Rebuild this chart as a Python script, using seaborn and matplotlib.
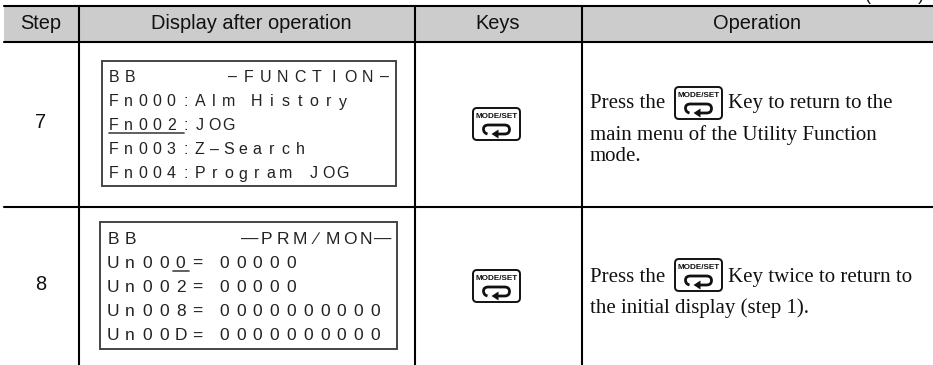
import matplotlib
matplotlib.use("Agg")
import matplotlib.pyplot as plt
import pandas as pd
import seaborn as sns
from matplotlib.patches import FancyBboxPatch, PathPatch, Polygon, Rectangle
from matplotlib.path import Path

HEADERS = ["Step", "Display after operation", "Keys", "Operation"]
STEPS = ["7", "8"]
DISPLAY_7 = ["BB", "Fn000:Alm History", "Fn002:JOG", "Fn003:Z\u2013Search", "Fn004:Program JOG"]
TITLE_7 = "\u2013FUNCTION\u2013"
DISPLAY_8 = ["BB", "Un000=", "Un002=", "Un008=", "Un00D="]
TITLE_8 = "\u2014PRM\u2215MON\u2014"
VALUES_8 = ["", "00000", "00000", "0000000000", "0000000000"]
OP_7 = [("Press the", "Key to return to the"), ("main menu of the Utility Function", None), ("mode.", None)]
OP_8 = [("Press the", "Key twice to return to"), ("the initial display (step 1).", None)]

W, H = 933, 365
COL_X = [79, 415, 582]
ROW_Y = [6, 42, 207]
LEFT = 4
INK = "#111111"

sns.set_theme(style="white")
plt.rcParams["font.family"] = ["Liberation Sans", "DejaVu Sans"]

fig = plt.figure(figsize=(W / 100, H / 100), dpi=100)
ax = fig.add_axes([0, 0, 1, 1])
ax.add_patch(Rectangle((LEFT, ROW_Y[0]), W - LEFT, ROW_Y[1] - ROW_Y[0], color="#cccccc", lw=0, zorder=0))

# table rules as one frame, one line per rule
rules = []
for i, y in enumerate(ROW_Y):
    rules += [{"rule": f"h{i}", "x": LEFT, "y": y}, {"rule": f"h{i}", "x": W, "y": y}]
for i, x in enumerate(COL_X):
    rules += [{"rule": f"v{i}", "x": x, "y": ROW_Y[0]}, {"rule": f"v{i}", "x": x, "y": H}]
sns.lineplot(data=pd.DataFrame(rules), x="x", y="y", units="rule", estimator=None, sort=False,
             color="black", lw=1.5, ax=ax, legend=False)
ax.set_xlim(0, W)
ax.set_ylim(H, 0)
ax.axis("off")

# the continuation mark is cut by the page edge in the source too
ax.text(895, 0, "(cont\u2019d)", ha="center", va="baseline", fontsize=13, color=INK)

for x, label in zip([41, 251, 498, 757], HEADERS):
    ax.text(x, 23.5, label, ha="center", va="center", fontsize=14.4, color=INK)
for y, label in zip([123, 284], STEPS):
    ax.text(41, y, label, ha="center", va="center", fontsize=14.4, color=INK)


def spaced(x, y, s, pitch, size=11.5):
    for i, ch in enumerate(s):
        if ch != " ":
            ax.text(x + i * pitch, y, ch, ha="center", va="center", fontsize=size, color="#222222")


def lcd_box(x0, x1, y0, y1):
    ax.add_patch(Rectangle((x0, y0), x1 - x0, y1 - y0, fill=False, ec="#444444", lw=1.4))


lcd_box(102, 396, 61, 186)
for y, line in zip([77, 102, 126, 150, 174], DISPLAY_7):
    spaced(114, y, line, 16.0 if line == "BB" else 14.3)
spaced(232, 77, TITLE_7, 16.9)
ax.plot([109, 184], [132.5, 132.5], color="#444444", lw=1.2)

lcd_box(100, 397, 222, 349)
for y, line, val in zip([239, 263, 287, 311, 336], DISPLAY_8, VALUES_8):
    spaced(113, y, line, 16.9, 12.5)
    spaced(224, y, val, 16.8, 12.5)
spaced(250, 239, TITLE_8, 16.6, 12.5)
ax.plot([173, 189], [271, 271], color="#444444", lw=1.2)


def key_icon(x, y, w=47, h=32):
    ax.add_patch(FancyBboxPatch((x + 2, y + 2), w - 4, h - 4, boxstyle="round,pad=2,rounding_size=4",
                                fill=False, ec=INK, lw=1.4))
    ax.text(x + w / 2, y + 8.5, "MODE/SET", ha="center", va="center", fontsize=5.9, fontweight="bold", color=INK)
    cx, cy = x + w / 2, y + 21
    verts = [(cx - 9, cy + 5), (cx - 13, cy + 4), (cx - 13, cy), (cx - 13, cy - 4), (cx - 8, cy - 4),
             (cx + 8, cy - 4), (cx + 13, cy - 4), (cx + 13, cy + 0.5), (cx + 13, cy + 5), (cx + 8, cy + 5),
             (cx + 1, cy + 5)]
    codes = [Path.MOVETO, Path.CURVE3, Path.CURVE3, Path.CURVE3, Path.CURVE3, Path.LINETO,
             Path.CURVE3, Path.CURVE3, Path.CURVE3, Path.CURVE3, Path.LINETO]
    ax.add_patch(PathPatch(Path(verts, codes), fill=False, ec=INK, lw=2.0))
    ax.add_patch(Polygon([(cx - 5, cy + 5), (cx + 2, cy + 0.5), (cx + 2, cy + 9.5)], color=INK, lw=0))


key_icon(473, 108)
key_icon(473, 270)
key_icon(675, 87)
key_icon(675, 259)


def op_lines(lines, ys):
    for (left, right), y in zip(lines, ys):
        ax.text(590, y, left, ha="left", va="baseline", family="Liberation Serif", fontsize=15, color=INK)
        if right:
            ax.text(728, y, right, ha="left", va="baseline", family="Liberation Serif", fontsize=15, color=INK)


op_lines(OP_7, [108, 140, 161])
op_lines(OP_8, [282, 313])

fig.savefig("out.png", dpi=100, facecolor="white")
